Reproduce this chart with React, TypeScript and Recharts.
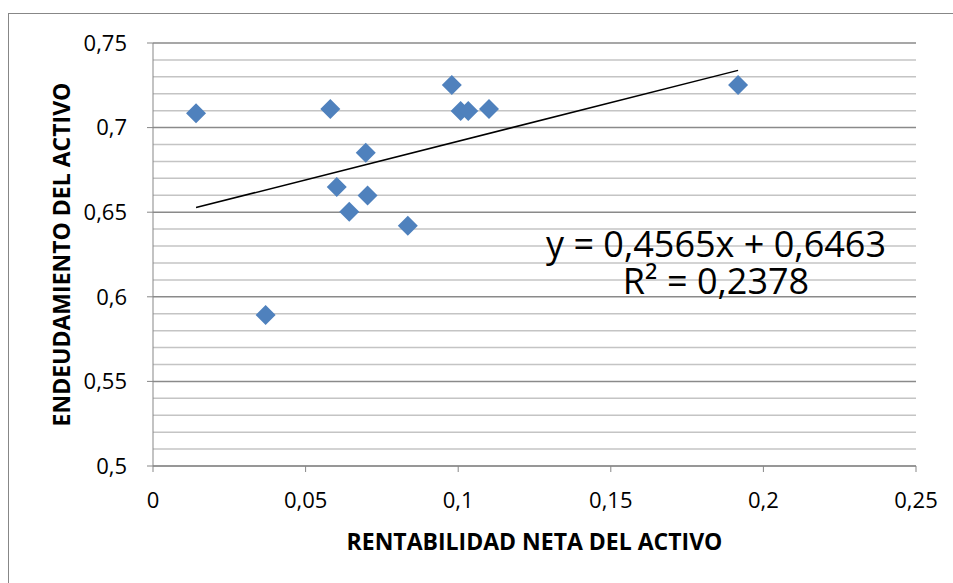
import {
  ScatterChart,
  Scatter,
  XAxis,
  YAxis,
  CartesianGrid,
  ReferenceLine,
} from "recharts";

// rentabilidad neta del activo (x) vs endeudamiento del activo (y)
const roa = [0.0141, 0.0369, 0.0581, 0.0602, 0.0643, 0.0697, 0.0703, 0.0835, 0.0979, 0.1008, 0.1033, 0.1101, 0.1917];
const endeudamiento = [0.7085, 0.5892, 0.711, 0.6649, 0.6503, 0.6852, 0.6598, 0.642, 0.7252, 0.7098, 0.7098, 0.711, 0.7252];

// linear trend, as reported on the chart
const slope = 0.4565;
const intercept = 0.6463;
const r2 = 0.2378;

const xTicks = [0, 0.05, 0.1, 0.15, 0.2, 0.25];
const yTicks = [0.5, 0.55, 0.6, 0.65, 0.7, 0.75];
const yMinor = [
  0.51, 0.52, 0.53, 0.54, 0.56, 0.57, 0.58, 0.59, 0.61, 0.62, 0.63, 0.64,
  0.66, 0.67, 0.68, 0.69, 0.71, 0.72, 0.73, 0.74,
];

const points = roa.map((x, i) => ({ x, y: endeudamiento[i] }));
const xMin = Math.min(...roa);
const xMax = Math.max(...roa);
const trend = [
  { x: xMin, y: slope * xMin + intercept },
  { x: xMax, y: slope * xMax + intercept },
];

const FONT = "'Open Sans', 'Noto Sans', sans-serif";
const fmt = (v: number) => String(v).replace(".", ",");
const fmtCoef = (v: number) => v.toFixed(4).replace(".", ",");

const Diamond = (props: { cx?: number; cy?: number }) => {
  const { cx = 0, cy = 0 } = props;
  const h = 10;
  return (
    <polygon
      points={`${cx},${cy - h} ${cx + h},${cy} ${cx},${cy + h} ${cx - h},${cy}`}
      fill="#4f81bd"
    />
  );
};

const eqStyle = {
  position: "absolute" as const,
  left: 516,
  width: 400,
  textAlign: "center" as const,
  fontSize: 36,
  lineHeight: "36px",
  whiteSpace: "nowrap" as const,
  color: "#000",
};

export default function App() {
  return (
    <div
      style={{
        position: "fixed",
        left: 0,
        top: 0,
        width: 953,
        height: 583,
        overflow: "hidden",
        background: "#fff",
        fontFamily: FONT,
      }}
    >
      <div
        style={{
          position: "absolute",
          left: 8,
          top: 13,
          width: 1000,
          height: 1000,
          borderLeft: "1px solid #878787",
          borderTop: "1px solid #878787",
        }}
      />
      <ScatterChart
        width={953}
        height={583}
        margin={{ top: 43, right: 37, bottom: 27, left: 0 }}
        style={{ position: "absolute", left: 0, top: 0 }}
      >
        {yMinor.map((v) => (
          <ReferenceLine key={v} y={v} stroke="#c4c4c4" strokeWidth={1.5} />
        ))}
        <CartesianGrid vertical={false} stroke="#8a8a8a" strokeWidth={1.5} />
        <XAxis
          type="number"
          dataKey="x"
          domain={[0, 0.25]}
          ticks={xTicks}
          tickFormatter={fmt}
          height={90}
          tickSize={6}
          tickMargin={20}
          stroke="#878787"
          tick={{ fill: "#000", fontSize: 22, fontFamily: FONT }}
          allowDataOverflow
          label={{
            value: "RENTABILIDAD NETA DEL ACTIVO",
            position: "insideBottom",
            offset: 6,
            fill: "#000",
            fontSize: 23,
            fontWeight: 700,
            fontFamily: FONT,
          }}
        />
        <YAxis
          type="number"
          dataKey="y"
          domain={[0.5, 0.75]}
          ticks={yTicks}
          tickFormatter={fmt}
          width={153}
          tickSize={6}
          tickMargin={20}
          stroke="#878787"
          tick={{ fill: "#000", fontSize: 22, fontFamily: FONT }}
          allowDataOverflow
          label={{
            value: "ENDEUDAMIENTO DEL ACTIVO",
            position: "insideLeft",
            offset: 62,
            angle: -90,
            fill: "#000",
            fontSize: 23,
            fontWeight: 700,
            fontFamily: FONT,
            style: { textAnchor: "middle" },
          }}
        />
        <Scatter
          data={points}
          shape={<Diamond />}
          isAnimationActive={false}
        />
        <ReferenceLine
          segment={trend}
          stroke="#000"
          strokeWidth={1.5}
          ifOverflow="visible"
        />
      </ScatterChart>
      <div style={{ ...eqStyle, top: 226 }}>
        y = {fmtCoef(slope)}x + {fmtCoef(intercept)}
      </div>
      <div style={{ ...eqStyle, top: 263 }}>R² = {fmtCoef(r2)}</div>
    </div>
  );
}
